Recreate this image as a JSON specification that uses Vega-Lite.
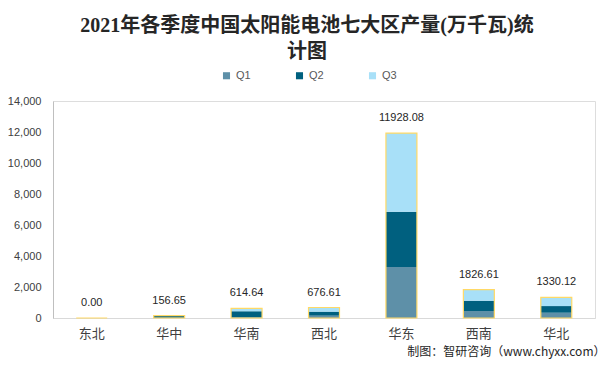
{
  "$schema": "https://vega.github.io/schema/vega-lite/v6.json",
  "autosize": {"type": "none"},
  "width": 542,
  "height": 217,
  "padding": {"left": 53, "top": 101, "right": 19, "bottom": 50},
  "background": "white",
  "config": {"axisY": {"labelOverlap": false, "labelBound": false, "labelFlush": false}},
  "title": {
    "text": ["2021年各季度中国太阳能电池七大区产量(万千瓦)统", "计图"],
    "font": "Liberation Serif, Noto Sans CJK SC",
    "fontSize": 20,
    "fontWeight": "bold",
    "color": "#262626",
    "anchor": "middle",
    "frame": "group",
    "dx": -17,
    "offset": 8,
    "lineHeight": 26
  },
  "datasets": {
    "prod": [
      {"region": "东北", "quarter": "Q1", "value": 0},
      {"region": "东北", "quarter": "Q2", "value": 0},
      {"region": "东北", "quarter": "Q3", "value": 0},
      {"region": "华中", "quarter": "Q1", "value": 20},
      {"region": "华中", "quarter": "Q2", "value": 120},
      {"region": "华中", "quarter": "Q3", "value": 16.65},
      {"region": "华南", "quarter": "Q1", "value": 50},
      {"region": "华南", "quarter": "Q2", "value": 380},
      {"region": "华南", "quarter": "Q3", "value": 184.64},
      {"region": "西北", "quarter": "Q1", "value": 150},
      {"region": "西北", "quarter": "Q2", "value": 260},
      {"region": "西北", "quarter": "Q3", "value": 266.61},
      {"region": "华东", "quarter": "Q1", "value": 3290},
      {"region": "华东", "quarter": "Q2", "value": 3570},
      {"region": "华东", "quarter": "Q3", "value": 5068.08},
      {"region": "西南", "quarter": "Q1", "value": 450},
      {"region": "西南", "quarter": "Q2", "value": 665},
      {"region": "西南", "quarter": "Q3", "value": 711.61},
      {"region": "华北", "quarter": "Q1", "value": 340},
      {"region": "华北", "quarter": "Q2", "value": 430},
      {"region": "华北", "quarter": "Q3", "value": 560.12}
    ]
  },
  "data": {"name": "prod"},
  "encoding": {
    "x": {
      "field": "region",
      "type": "nominal",
      "sort": ["东北", "华中", "华南", "西北", "华东", "西南", "华北"],
      "scale": {"paddingInner": 0.6, "paddingOuter": 0.3},
      "axis": {
        "title": "制图：智研咨询（www.chyxx.com）",
        "titleFont": "Noto Sans CJK SC",
        "titleFontSize": 12,
        "titleFontWeight": "normal",
        "titleColor": "#262626",
        "titleAnchor": "end",
        "titleAlign": "right",
        "titleX": 552,
        "titlePadding": 6,
        "labelAngle": 0,
        "labelFont": "Noto Sans CJK SC",
        "labelFontSize": 13,
        "labelColor": "#404040",
        "labelPadding": 9,
        "ticks": false,
        "domainColor": "#d9d9d9",
        "domainWidth": 1
      }
    }
  },
  "layer": [
    {
      "mark": {"type": "bar"},
      "encoding": {
        "y": {
          "field": "value",
          "type": "quantitative",
          "aggregate": "sum",
          "stack": "zero",
          "scale": {"domain": [0, 14000], "nice": false},
          "axis": {
            "title": null,
            "values": [0, 2000, 4000, 6000, 8000, 10000, 12000, 14000],
            "format": ",.0f",
            "labelOverlap": false,
            "grid": false,
            "ticks": false,
            "labelFont": "Liberation Sans",
            "labelFontSize": 11,
            "labelColor": "#404040",
            "labelPadding": 12,
            "domainColor": "#bfbfbf"
          }
        },
        "color": {
          "field": "quarter",
          "type": "nominal",
          "scale": {"domain": ["Q1", "Q2", "Q3"], "range": ["#5e90a8", "#00607f", "#a8e0f8"]},
          "legend": {
            "title": null,
            "orient": "none",
            "direction": "horizontal",
            "legendX": 168,
            "legendY": -31,
            "symbolType": "square",
            "symbolSize": 50,
            "symbolStrokeWidth": 0,
            "labelFont": "Liberation Sans",
            "labelFontSize": 11,
            "labelColor": "#595959",
            "labelOffset": 4,
            "columnPadding": 43
          }
        },
        "order": {"field": "quarter"}
      }
    },
    {
      "transform": [{"aggregate": [{"op": "sum", "field": "value", "as": "total"}], "groupby": ["region"]}],
      "mark": {"type": "bar", "fill": null, "fillOpacity": 0, "stroke": "#ffd966", "strokeWidth": 1.2},
      "encoding": {
        "y": {
          "field": "total",
          "type": "quantitative",
          "axis": {
            "title": null,
            "values": [0, 2000, 4000, 6000, 8000, 10000, 12000, 14000],
            "format": ",.0f",
            "labelOverlap": false,
            "grid": false,
            "ticks": false,
            "labelFont": "Liberation Sans",
            "labelFontSize": 11,
            "labelColor": "#404040",
            "labelPadding": 12,
            "domainColor": "#bfbfbf"
          }
        }
      }
    },
    {
      "transform": [{"aggregate": [{"op": "sum", "field": "value", "as": "total"}], "groupby": ["region"]}],
      "mark": {"type": "text", "baseline": "bottom", "dy": -10, "font": "Liberation Sans", "fontSize": 11, "color": "#262626"},
      "encoding": {
        "y": {
          "field": "total",
          "type": "quantitative",
          "axis": {
            "title": null,
            "values": [0, 2000, 4000, 6000, 8000, 10000, 12000, 14000],
            "format": ",.0f",
            "labelOverlap": false,
            "grid": false,
            "ticks": false,
            "labelFont": "Liberation Sans",
            "labelFontSize": 11,
            "labelColor": "#404040",
            "labelPadding": 12,
            "domainColor": "#bfbfbf"
          }
        },
        "text": {"field": "total", "type": "quantitative", "format": ".2f"}
      }
    }
  ]
}
